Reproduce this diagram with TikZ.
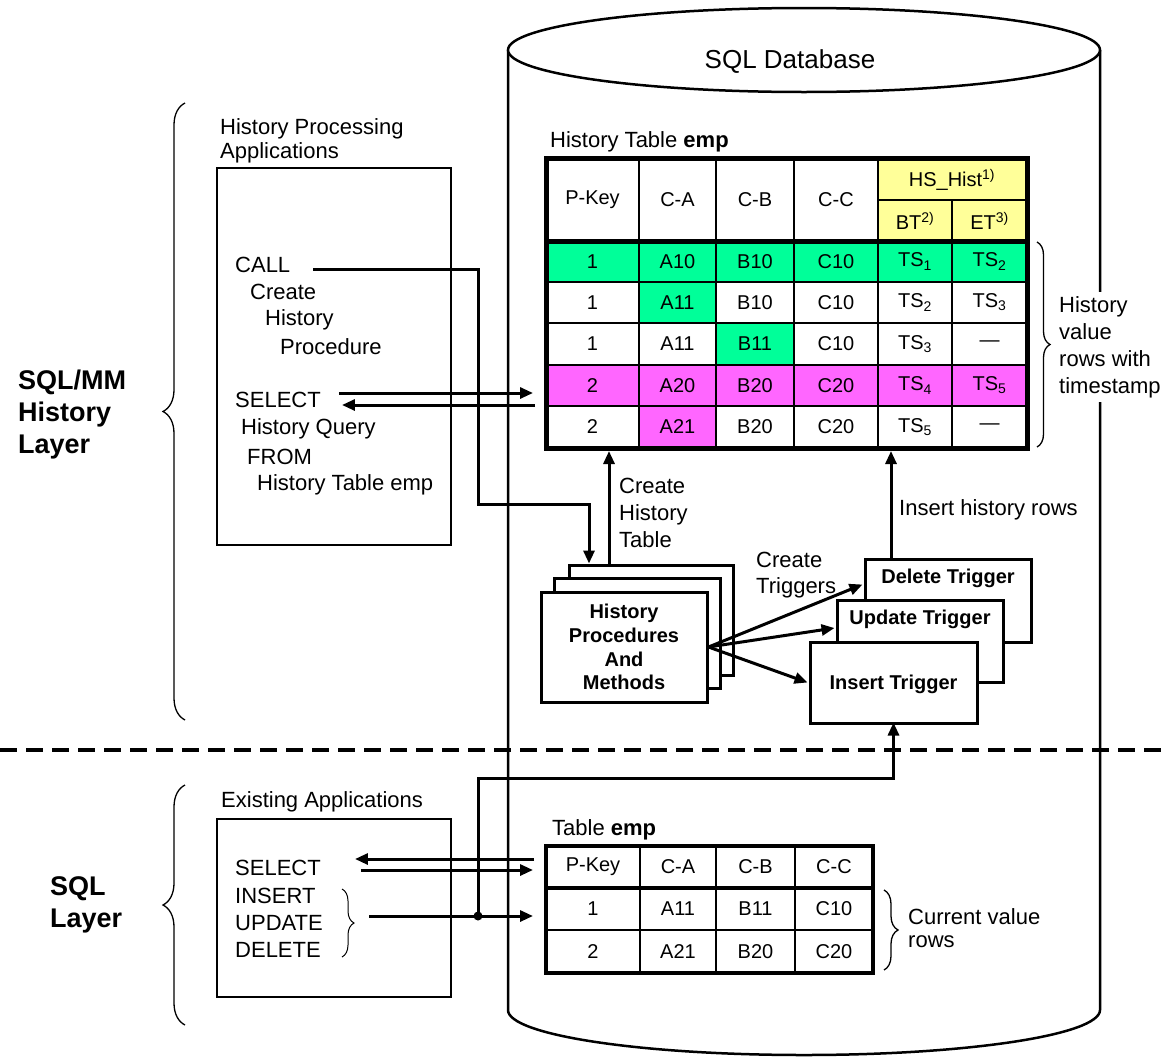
\documentclass[tikz,border=0pt]{standalone}
\usepackage{fontspec}
\setmainfont{Liberation Sans}
\usetikzlibrary{arrows.meta,decorations.pathreplacing,calc}
\definecolor{hgreen}{RGB}{0,255,153}
\definecolor{hmag}{RGB}{255,102,255}
\definecolor{hyel}{RGB}{255,255,153}
\begin{document}
\begin{tikzpicture}[x=1pt,y=-1pt,
 every node/.style={inner sep=0pt},
 txt/.style={font=\fontsize{22}{27}\selectfont, align=left, anchor=west},
 cellt/.style={font=\fontsize{20}{24}\selectfont},
 boldt/.style={font=\fontsize{20}{23.7}\selectfont\bfseries, align=center},
 layer/.style={font=\fontsize{27}{32}\selectfont\bfseries, align=left, anchor=west},
 bx/.style={draw, line width=1.8pt, fill=white},
 tbx/.style={draw, line width=3pt, fill=white},
 arr/.style={line width=3pt, -{Triangle[length=13pt,width=11pt]}},
 ln/.style={line width=3pt},
 brc/.style={decorate, decoration={brace, amplitude=#1}, line width=1.3pt},
 thin/.style={line width=2.5pt},
]
\useasboundingbox (0,0) rectangle (1169,1063);
\fill[white] (0,0) rectangle (1169,1063);

% cylinder
\draw[line width=2.5pt] (508,50) -- (508,1010) arc[start angle=180, end angle=360, x radius=296pt, y radius=45pt] -- (1100,50);
\draw[line width=2.5pt, fill=white] (804,50) ellipse [x radius=296pt, y radius=42pt];
\node[font=\fontsize{26}{30}\selectfont] (dbl) at (790,62) {SQL Database};

% layer separator
\draw[line width=4.5pt, dash pattern=on 17pt off 9pt] (0,750) -- (1169,750);

% layer braces and labels
\draw[brc=22pt] (185,720) -- (185,103);
\draw[brc=22pt] (185,1025) -- (185,785);
\node[layer] (mml) at (18,415) {SQL/MM\\History\\Layer};
\node[layer] (sqll) at (50,905) {SQL\\Layer};

% history processing applications
\node[txt, font=\fontsize{22}{24}\selectfont] (hpal) at (220,141) {History Processing\\Applications};
\node[bx, minimum width=234pt, minimum height=377pt] (hpbox) at (334,356.5) {};
\node[txt] (call) at (235,265) {CALL};
\node[txt] (cr1) at (250,292) {Create};
\node[txt] (cr2) at (265,320) {History};
\node[txt] (cr3) at (280,347) {Procedure};
\node[txt] (sel) at (235,400) {SELECT};
\node[txt] (hq1) at (241,429) {History Query};
\node[txt] (hq2) at (247,457) {FROM};
\node[txt] (hq3) at (257,485) {History Table emp};

% existing applications
\node[txt] (eal) at (221,802) {Existing Applications};
\node[bx, minimum width=234pt, minimum height=178pt] (eabox) at (334,908) {};
\node[txt] (sel2) at (235,868) {SELECT};
\node[txt] (ins2) at (235,896) {INSERT};
\node[txt] (upd2) at (235,923) {UPDATE};
\node[txt] (del2) at (235,950) {DELETE};
\draw[brc=12pt, line width=1pt] (342,889) -- (342,957);

% procedures stack
\node[tbx, minimum width=164pt, minimum height=110pt] (proc3) at (651,620) {};
\node[tbx, minimum width=166pt, minimum height=110pt] (proc2) at (637,633) {};
\node[tbx, minimum width=166pt, minimum height=110pt, boldt] (proc1) at (624,647) {History\\Procedures\\And\\Methods};

% triggers
\node[tbx, minimum width=166pt, minimum height=83pt] (delt) at (948,600.5) {};
\node[boldt] (deltx) at (948,578) {Delete Trigger};
\node[tbx, minimum width=166pt, minimum height=82pt] (updt) at (920,641) {};
\node[boldt] (updtx) at (920,619) {Update Trigger};
\node[tbx, minimum width=167pt, minimum height=81pt] (inst) at (893.5,682.5) {};
\node[boldt] (insttx) at (893.5,684) {Insert Trigger};

% ---------- history table ----------
\fill[hgreen] (546,241) rectangle (1027,282);
\fill[hgreen] (639,282) rectangle (716,323);
\fill[hgreen] (716,323) rectangle (794,365);
\fill[hmag] (546,365) rectangle (1027,406);
\fill[hmag] (639,406) rectangle (716,448);
\fill[hyel] (878,158) rectangle (1027,241);
\foreach \xx in {639,716,794,878} \draw[thin] (\xx,158) -- (\xx,448);
\draw[thin] (952,200) -- (952,448);
\draw[thin] (878,200) -- (1027,200);
\foreach \yy in {282,323,365,406} \draw[thin] (546,\yy) -- (1027,\yy);
\draw[line width=5pt] (546,241) -- (1027,241);
\node[draw, line width=5pt, minimum width=481pt, minimum height=290pt] (htab) at (786.5,303) {};
\node[txt, font=\fontsize{22}{26}\selectfont] (htl) at (550,142) {History Table \textbf{emp}};
\node[cellt] (hpk) at (592.5,200) {P-Key};
\node[cellt] (hca) at (677.5,200) {C-A};
\node[cellt] (hcb) at (755,200) {C-B};
\node[cellt] (hcc) at (836,200) {C-C};
\node[cellt] (hhs) at (952,180) {HS\_Hist\textsuperscript{1)}};
\node[cellt] (hbt) at (915,221) {BT\textsuperscript{2)}};
\node[cellt] (het) at (989.5,221) {ET\textsuperscript{3)}};
\foreach \yy/\va/\vb/\vc/\vd/\ve/\vf [count=\i] in {
 261.5/1/A10/B10/C10/TS\textsubscript{1}/TS\textsubscript{2},
 302.5/1/A11/B10/C10/TS\textsubscript{2}/TS\textsubscript{3},
 344/1/A11/B11/C10/TS\textsubscript{3}/\textemdash,
 385.5/2/A20/B20/C20/TS\textsubscript{4}/TS\textsubscript{5},
 427/2/A21/B20/C20/TS\textsubscript{5}/\textemdash} {
 \node[cellt] (h\i a) at (592.5,\yy) {\va};
 \node[cellt] (h\i b) at (677.5,\yy) {\vb};
 \node[cellt] (h\i c) at (755,\yy) {\vc};
 \node[cellt] (h\i d) at (836,\yy) {\vd};
 \node[cellt] (h\i e) at (915,\yy) {\ve};
 \node[cellt] (h\i f) at (989.5,\yy) {\vf};
}
\draw[brc=13pt] (1037,242) -- (1037,447);
\node[txt, fill=white, inner xsep=1pt, inner ysep=4pt] (hvr) at (1058,347) {History\\value\\rows with\\timestamp};

% ---------- current table ----------
\foreach \xx in {640,716,795} \draw[line width=2pt] (\xx,846) -- (\xx,973);
\draw[line width=2pt] (546,930) -- (873,930);
\draw[line width=3.5pt] (546,888) -- (873,888);
\node[draw, line width=4pt, minimum width=327pt, minimum height=127pt] (ctab) at (709.5,909.5) {};
\node[txt, font=\fontsize{22}{26}\selectfont] (ctl) at (552,830) {Table \textbf{emp}};
\foreach \yy/\va/\vb/\vc/\vd [count=\i] in {867/P-Key/C-A/C-B/C-C, 909/1/A11/B11/C10, 951.5/2/A21/B20/C20} {
 \node[cellt] (c\i a) at (593,\yy) {\va};
 \node[cellt] (c\i b) at (678,\yy) {\vb};
 \node[cellt] (c\i c) at (755.5,\yy) {\vc};
 \node[cellt] (c\i d) at (834,\yy) {\vd};
}
\draw[brc=14pt] (884,890) -- (884,970);
\node[txt, font=\fontsize{22}{23}\selectfont] (cvr) at (908,928) {Current value\\rows};

% ---------- connectors ----------
\coordinate (hs1) at (533,393);
\coordinate (hs2) at (535,405);
\coordinate (cht) at (609,451);
\coordinate (ihr) at (891,451);
\coordinate (lt1) at (534,859);
\coordinate (lt2) at (533,870);
\coordinate (lt3) at (533,916);
\coordinate (jn) at (478,916);

\draw[arr] ([shift={(23,4)}]call.east) -| (478,504) -| ([xshift=-62pt]proc3.north);
\draw[arr] ([shift={(18,-7)}]sel.east) -- (hs1);
\draw[arr] (hs2) -- ([shift={(21,5)}]sel.east);

\draw[arr] (proc3.north -| cht) -- (cht);
\node[txt] (chtl) at (619,513) {Create\\History\\Table};
\draw[arr] (delt.north -| ihr) -- (ihr);
\node[txt] (ihrl) at (899,510) {Insert history rows};

\node[txt, font=\fontsize{22}{26}\selectfont] (ctrl) at (756,575) {Create\\Triggers};
\draw[arr] (proc1.east) -- ([shift={(-1,-16)}]delt.west);
\draw[arr] (proc1.east) -- ([shift={(-1,-13)}]updt.west);
\draw[arr] (proc1.east) -- ([xshift=-1pt]inst.west);

\draw[arr] (lt1) -- ([shift={(34,-9)}]sel2.east);
\draw[arr] ([shift={(40,2)}]sel2.east) -- (lt2);
\draw[arr] ([shift={(46,0)}]upd2.east |- lt3) -- (lt3);
\draw[arr] (jn) -- (478,778) -| ([yshift=2pt]inst.south);
\fill (jn) circle (4.5pt);
\end{tikzpicture}
\end{document}
